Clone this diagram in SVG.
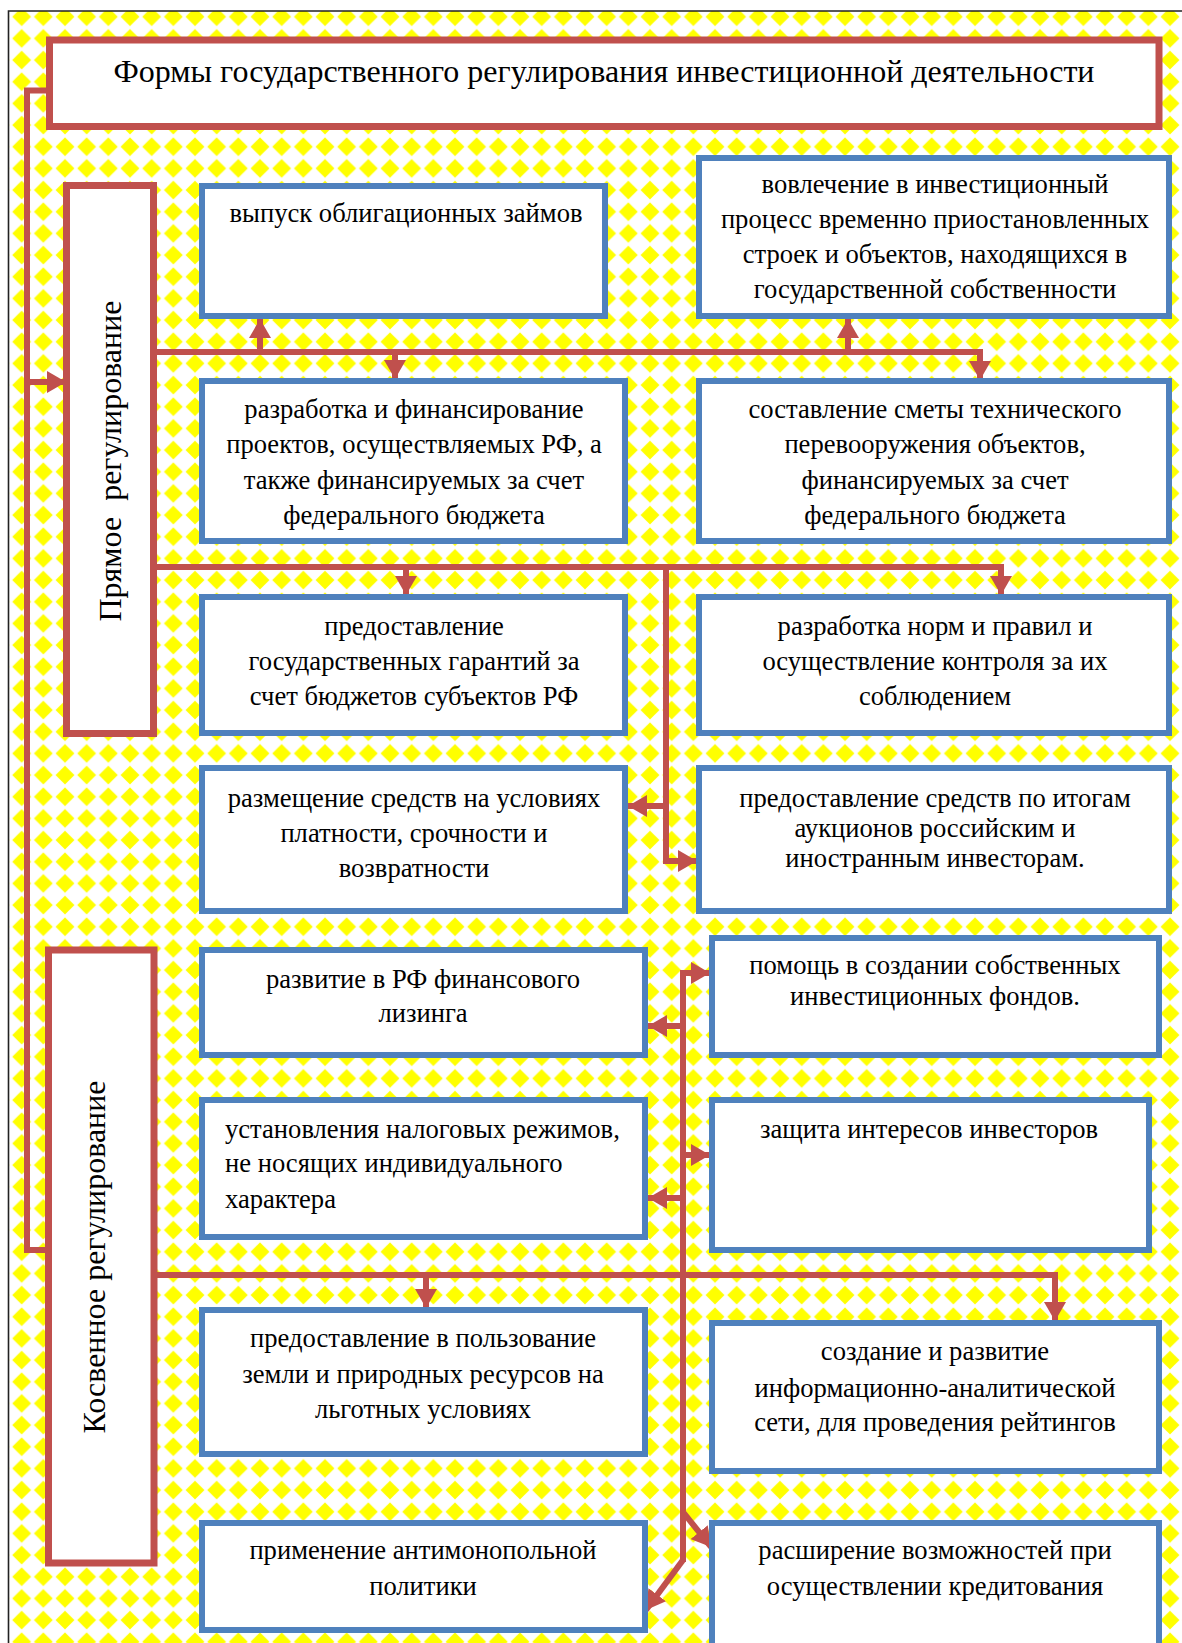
<svg xmlns="http://www.w3.org/2000/svg" width="1182" height="1643" viewBox="0 0 1182 1643">
<defs>
<pattern id="dia" patternUnits="userSpaceOnUse" x="-10.83" y="5.9" width="21.667" height="21.667">
<rect width="21.667" height="21.667" fill="#ffffff"/>
<polygon points="10.83,1.4 20.26,10.83 10.83,20.26 1.4,10.83" fill="#ffff00"/>
</pattern>
<marker id="ah" markerUnits="userSpaceOnUse" markerWidth="20" markerHeight="22" refX="19" refY="11" orient="auto">
<path d="M0,0 L19,11 L0,22 z" fill="#c0504d"/>
</marker>
<style>
.bb{fill:#fff;stroke:#4f81bd;stroke-width:6}
.rb{fill:#fff;stroke:#c0504d;stroke-width:7}
.ln{fill:none;stroke:#c0504d;stroke-width:6}
.t{font-family:"Liberation Serif","Times New Roman",serif;font-size:26.6px;fill:#000;text-anchor:middle}
.tl{text-anchor:start}
.title{font-size:32px}
.rot{font-size:32px}
</style>
</defs>
<rect x="0" y="0" width="1182" height="1643" fill="#fff"/>
<rect x="9" y="11" width="1173" height="1632" fill="url(#dia)"/>
<path d="M8.5,1643 V11 H1182" fill="none" stroke="#222" stroke-width="1.6"/>

<g id="connectors">
<path class="ln" d="M49,90.5 H27 V1250 H64" marker-end="url(#ah)"/>
<path class="ln" d="M27,382 H66" marker-end="url(#ah)"/>
<path class="ln" d="M155,352 H980 V380" marker-end="url(#ah)"/>
<path class="ln" d="M260,352 V319" marker-end="url(#ah)"/>
<path class="ln" d="M395,352 V379" marker-end="url(#ah)"/>
<path class="ln" d="M848,352 V319" marker-end="url(#ah)"/>
<path class="ln" d="M155,567 H1001 V595" marker-end="url(#ah)"/>
<path class="ln" d="M406,567 V595" marker-end="url(#ah)"/>
<path class="ln" d="M666,567 V861 H697" marker-end="url(#ah)"/>
<path class="ln" d="M666,806 H628" marker-end="url(#ah)"/>
<path class="ln" d="M683,1562 V973 H710" marker-end="url(#ah)"/>
<path class="ln" d="M683,1026 H648" marker-end="url(#ah)"/>
<path class="ln" d="M683,1155 H710" marker-end="url(#ah)"/>
<path class="ln" d="M683,1198 H648" marker-end="url(#ah)"/>
<path class="ln" d="M155,1275 H1055 V1321" marker-end="url(#ah)"/>
<path class="ln" d="M426,1275 V1308" marker-end="url(#ah)"/>
<path class="ln" d="M683,1512 L711,1547" marker-end="url(#ah)"/>
<path class="ln" d="M683,1560 L646,1610" marker-end="url(#ah)"/>
</g>

<g id="title">
<rect class="rb" x="49.5" y="40" width="1109.5" height="86.5"/>
<text class="t title" x="604" y="82">Формы государственного регулирования инвестиционной деятельности</text>
</g>

<g id="direct">
<rect class="rb" x="66.5" y="185.5" width="87" height="548"/>
<text class="t rot" transform="rotate(-90 121 461)" x="121" y="461" xml:space="preserve">Прямое  регулирование</text>
</g>

<g id="indirect">
<rect class="rb" x="48.5" y="950" width="105.5" height="613"/>
<text class="t rot" transform="rotate(-90 105 1257)" x="105" y="1257">Косвенное регулирование</text>
</g>

<g id="n1">
<rect class="bb" x="202" y="186" width="403" height="130"/>
<text class="t" x="406" y="222">выпуск облигационных займов</text>
</g>
<g id="n2">
<rect class="bb" x="699" y="158" width="470" height="158"/>
<text class="t" x="935" y="193">вовлечение в инвестиционный</text>
<text class="t" x="935" y="228">процесс временно приостановленных</text>
<text class="t" x="935" y="263">строек и объектов, находящихся в</text>
<text class="t" x="935" y="298">государственной собственности</text>
</g>
<g id="n3">
<rect class="bb" x="202" y="381" width="423" height="160"/>
<text class="t" x="414" y="418">разработка и финансирование</text>
<text class="t" x="414" y="453">проектов, осуществляемых РФ, а</text>
<text class="t" x="414" y="489">также финансируемых за счет</text>
<text class="t" x="414" y="524">федерального бюджета</text>
</g>
<g id="n4">
<rect class="bb" x="699" y="381" width="470" height="160"/>
<text class="t" x="935" y="418">составление сметы технического</text>
<text class="t" x="935" y="453">перевооружения объектов,</text>
<text class="t" x="935" y="489">финансируемых за счет</text>
<text class="t" x="935" y="524">федерального бюджета</text>
</g>
<g id="n5">
<rect class="bb" x="202" y="597" width="423" height="136"/>
<text class="t" x="414" y="635">предоставление</text>
<text class="t" x="414" y="670">государственных гарантий за</text>
<text class="t" x="414" y="705">счет бюджетов субъектов РФ</text>
</g>
<g id="n6">
<rect class="bb" x="699" y="597" width="470" height="136"/>
<text class="t" x="935" y="635">разработка норм и правил и</text>
<text class="t" x="935" y="670">осуществление контроля за их</text>
<text class="t" x="935" y="705">соблюдением</text>
</g>
<g id="n7">
<rect class="bb" x="202" y="768" width="423" height="143"/>
<text class="t" x="414" y="807">размещение средств на условиях</text>
<text class="t" x="414" y="842">платности, срочности и</text>
<text class="t" x="414" y="877">возвратности</text>
</g>
<g id="n8">
<rect class="bb" x="699" y="768" width="470" height="143"/>
<text class="t" x="935" y="807">предоставление средств по итогам</text>
<text class="t" x="935" y="837">аукционов российским и</text>
<text class="t" x="935" y="867">иностранным инвесторам.</text>
</g>
<g id="n9">
<rect class="bb" x="202" y="950" width="443" height="105"/>
<text class="t" x="423" y="988">развитие в РФ финансового</text>
<text class="t" x="423" y="1022">лизинга</text>
</g>
<g id="n10">
<rect class="bb" x="712" y="938" width="447" height="117"/>
<text class="t" x="935" y="974">помощь в создании собственных</text>
<text class="t" x="935" y="1005">инвестиционных фондов.</text>
</g>
<g id="n11">
<rect class="bb" x="202" y="1100" width="443" height="137"/>
<text class="t tl" x="225" y="1138">установления налоговых режимов,</text>
<text class="t tl" x="225" y="1172">не носящих индивидуального</text>
<text class="t tl" x="225" y="1208">характера</text>
</g>
<g id="n12">
<rect class="bb" x="712" y="1100" width="437" height="150"/>
<text class="t" x="929" y="1138">защита интересов инвесторов</text>
</g>
<g id="n13">
<rect class="bb" x="202" y="1310" width="443" height="144"/>
<text class="t" x="423" y="1347">предоставление в пользование</text>
<text class="t" x="423" y="1383">земли и природных ресурсов на</text>
<text class="t" x="423" y="1418">льготных условиях</text>
</g>
<g id="n14">
<rect class="bb" x="712" y="1323" width="447" height="148"/>
<text class="t" x="935" y="1360">создание и развитие</text>
<text class="t" x="935" y="1397">информационно-аналитической</text>
<text class="t" x="935" y="1431">сети, для проведения рейтингов</text>
</g>
<g id="n15">
<rect class="bb" x="202" y="1523" width="443" height="107"/>
<text class="t" x="423" y="1559">применение антимонопольной</text>
<text class="t" x="423" y="1595">политики</text>
</g>
<g id="n16">
<rect class="bb" x="712" y="1523" width="447" height="140"/>
<text class="t" x="935" y="1559">расширение возможностей при</text>
<text class="t" x="935" y="1595">осуществлении кредитования</text>
</g>
</svg>
